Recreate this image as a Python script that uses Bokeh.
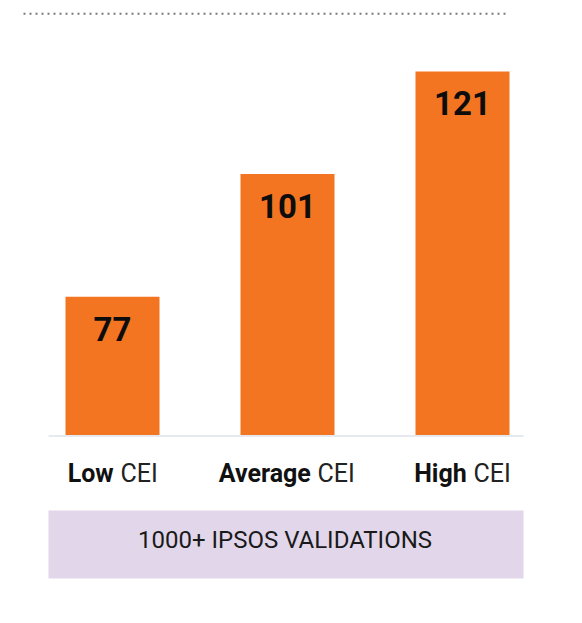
from bokeh.plotting import figure
from bokeh.models import Range1d, ColumnDataSource
from bokeh.core.properties import value
from bokeh.embed import file_html
from bokeh.resources import INLINE

# ---- data ----
categories = ["Low", "Average", "High"]
suffix = ["CEI", "CEI", "CEI"]
scores = [77, 101, 121]
footer_text = "1000+ IPSOS VALIDATIONS"
BASE = 50  # value at which bars start

# ---- layout constants (pixels inside the figure) ----
W, H = 566, 607
UNIT_X = 175.0          # px between bar centers
X0_PX = 112.0           # px position of first bar center
PX_PER_Y = 5.12
BASE_PX = 434.5         # px from top of figure where bars start

x_start = -X0_PX / UNIT_X
x_end = x_start + W / UNIT_X
y_end = BASE + BASE_PX / PX_PER_Y
y_start = y_end - H / PX_PER_Y

def fx(px):
    return x_start + px / UNIT_X

def fy(py):
    return y_end - py / PX_PER_Y

p = figure(width=W, height=H, output_backend="svg", toolbar_location=None,
           x_range=Range1d(x_start, x_end), y_range=Range1d(y_start, y_end),
           min_border=0, min_border_left=0, min_border_right=0,
           min_border_top=0, min_border_bottom=0)
p.xaxis.visible = False
p.yaxis.visible = False
p.grid.visible = False
p.outline_line_color = None
p.background_fill_color = "white"
p.border_fill_color = "white"

idx = list(range(len(categories)))
split = [1.2, 23.3, 4.2]
src = ColumnDataSource(dict(x=idx, top=scores, label=[str(s) for s in scores],
                            cat=categories, suf=suffix,
                            split=split, split2=[s + 6.8 for s in split]))

# dotted rule at top
p.segment(x0=[fx(23)], y0=[fy(13.3)], x1=[fx(509)], y1=[fy(13.3)],
          line_color="#7a7a7a", line_width=2, line_dash="2 4")

# bars
p.vbar(x="x", top="top", bottom=BASE, width=94 / UNIT_X, source=src,
       fill_color="#F47521", line_color=None)

# baseline
p.segment(x0=[fx(48)], y0=[fy(BASE_PX + 1)], x1=[fx(523)], y1=[fy(BASE_PX + 1)],
          line_color="#e6e9ee", line_width=2)

# value labels
p.text(x="x", y="top", text="label", source=src, text_align="center",
       text_baseline="middle", y_offset=32,
       text_font=value("Roboto"), text_font_style="bold",
       text_font_size="33px", text_color="#0d0d0d")

# category labels (bold word + regular suffix)
p.text(x="x", y=fy(473), text="cat", source=src, text_align="right",
       text_baseline="middle", x_offset="split",
       text_font=value("Roboto"), text_font_style="bold",
       text_font_size="25px", text_color="#111111")
p.text(x="x", y=fy(473), text="suf", source=src, text_align="left",
       text_baseline="middle", x_offset="split2",
       text_font=value("Roboto"), text_font_style="normal",
       text_font_size="25px", text_color="#222222")

# footer box
p.quad(left=[fx(48)], right=[fx(523)], top=[fy(510)], bottom=[fy(578)],
       fill_color="#E2D6EA", line_color=None)
p.text(x=[fx(284.5)], y=[fy(539)], text=[footer_text], text_align="center",
       text_baseline="middle", text_font=value("Roboto"),
       text_font_size="24px", text_color="#1a1a1a")

open("out.html", "w").write(file_html(p, INLINE))
